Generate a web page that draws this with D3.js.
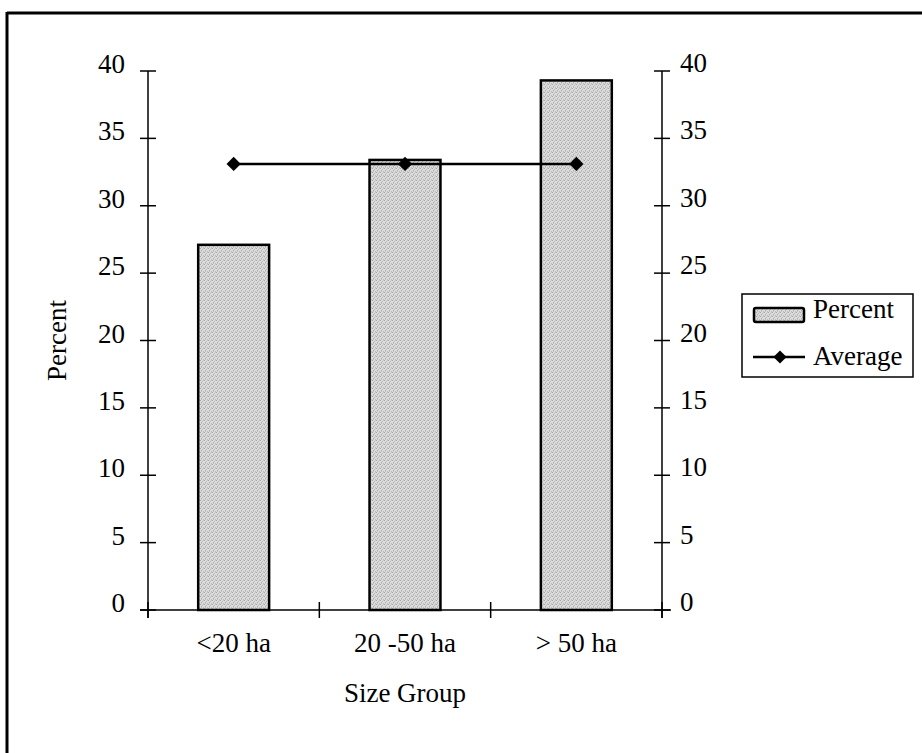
<!DOCTYPE html>
<html>
<head>
<meta charset="utf-8">
<script src="https://cdn.jsdelivr.net/npm/d3@7"></script>
<style>
  html, body { margin: 0; padding: 0; background: #fff; }
  svg { display: block; }
  text { font-family: "Liberation Serif", "Times New Roman", serif; fill: #000; }
</style>
</head>
<body>
<svg id="chart" width="922" height="753"></svg>
<script>
// ---- data ----
const categories = ["<20 ha", "20 -50 ha", "> 50 ha"];
const percentValues = [27.1, 33.4, 39.3];
const averageValues = [33.1, 33.1, 33.1];
const yTicks = [0, 5, 10, 15, 20, 25, 30, 35, 40];
const legendLabels = ["Percent", "Average"];
const xTitle = "Size Group";
const yTitle = "Percent";

(function () {
// ---- layout ----
const W = 922, H = 753;
const pL = 148, pR = 662, pT = 71, pB = 610;
const fs = 27;

const svg = d3.select("#chart");

// pattern for stipple fill
const defs = svg.append("defs");
const pat = defs.append("pattern").attr("id", "stip")
  .attr("width", 4).attr("height", 4).attr("patternUnits", "userSpaceOnUse");
pat.append("rect").attr("width", 4).attr("height", 4).attr("fill", "#dcdcdc");
[[0,0,"#a8a8a8"],[2,1,"#b8b8b8"],[1,2,"#b0b0b0"],[3,3,"#bcbcbc"],[3,0,"#c4c4c4"],[1,3,"#c0c0c0"]]
  .forEach(p => pat.append("rect").attr("x", p[0]).attr("y", p[1]).attr("width", 1).attr("height", 1).attr("fill", p[2]));

// frame (top and left edges visible)
svg.append("line").attr("x1", 7).attr("x2", W).attr("y1", 13).attr("y2", 13)
  .attr("stroke", "#000").attr("stroke-width", 3);
svg.append("line").attr("x1", 7).attr("x2", 7).attr("y1", 12).attr("y2", H)
  .attr("stroke", "#000").attr("stroke-width", 3);

const x = d3.scaleBand().domain(categories).range([pL, pR])
  .paddingInner(0.586).paddingOuter(0.293);
const y = d3.scaleLinear().domain([0, 40]).range([pB, pT]);

// bars
svg.selectAll("rect.bar").data(percentValues).join("rect")
  .attr("class", "bar")
  .attr("x", (d, i) => x(categories[i]))
  .attr("width", x.bandwidth())
  .attr("y", d => y(d))
  .attr("height", d => y(0) - y(d))
  .attr("fill", "url(#stip)")
  .attr("stroke", "#000").attr("stroke-width", 2.5);

// left axis
svg.append("line").attr("x1", pL).attr("x2", pL).attr("y1", y(40)).attr("y2", pB + 8)
  .attr("stroke", "#000").attr("stroke-width", 1.5);
svg.selectAll("line.ltick").data(yTicks).join("line").attr("class", "ltick")
  .attr("x1", pL - 8).attr("x2", pL + 8).attr("y1", d => y(d)).attr("y2", d => y(d))
  .attr("stroke", "#000").attr("stroke-width", 1.5);
svg.selectAll("text.llab").data(yTicks).join("text").attr("class", "llab")
  .attr("x", 125).attr("y", d => y(d) + 2).attr("text-anchor", "end")
  .attr("font-size", fs).text(d => d);

// right axis
svg.append("line").attr("x1", pR).attr("x2", pR).attr("y1", y(40)).attr("y2", pB + 8)
  .attr("stroke", "#000").attr("stroke-width", 1.5);
svg.selectAll("line.rtick").data(yTicks).join("line").attr("class", "rtick")
  .attr("x1", pR - 8).attr("x2", pR + 8).attr("y1", d => y(d)).attr("y2", d => y(d))
  .attr("stroke", "#000").attr("stroke-width", 1.5);
svg.selectAll("text.rlab").data(yTicks).join("text").attr("class", "rlab")
  .attr("x", 680).attr("y", d => y(d) + 1).attr("text-anchor", "start")
  .attr("font-size", fs).text(d => d);

// x axis
svg.append("line").attr("x1", pL - 8).attr("x2", pR + 9).attr("y1", pB).attr("y2", pB)
  .attr("stroke", "#000").attr("stroke-width", 1.5);
svg.selectAll("line.xtick").data(d3.range(categories.length + 1)).join("line").attr("class", "xtick")
  .attr("x1", i => pL + i * x.step()).attr("x2", i => pL + i * x.step())
  .attr("y1", pB - 8).attr("y2", pB + 8)
  .attr("stroke", "#000").attr("stroke-width", 1.5);
svg.selectAll("text.xlab").data(categories).join("text").attr("class", "xlab")
  .attr("x", d => x(d) + x.bandwidth() / 2).attr("y", 652)
  .attr("text-anchor", "middle").attr("font-size", fs).text(d => d);

// titles
svg.append("text").attr("x", (pL + pR) / 2).attr("y", 702)
  .attr("text-anchor", "middle").attr("font-size", fs).text(xTitle);
svg.append("text").attr("transform", "translate(66," + ((pT + pB) / 2) + ") rotate(-90)")
  .attr("text-anchor", "middle").attr("font-size", fs).text(yTitle);

// average line
const line = d3.line().x((d, i) => x(categories[i]) + x.bandwidth() / 2).y(d => y(d));
svg.append("path").datum(averageValues).attr("d", line)
  .attr("fill", "none").attr("stroke", "#000").attr("stroke-width", 2.5);
const diamond = d3.symbol().type(d3.symbolDiamond2).size(130);
svg.selectAll("path.dia").data(averageValues).join("path").attr("class", "dia")
  .attr("d", diamond)
  .attr("transform", (d, i) => "translate(" + (x(categories[i]) + x.bandwidth() / 2) + "," + y(d) + ")")
  .attr("fill", "#000");

// legend
const lg = svg.append("g");
lg.append("rect").attr("x", 742).attr("y", 294).attr("width", 171).attr("height", 83)
  .attr("fill", "#fff").attr("stroke", "#000").attr("stroke-width", 1.5);
lg.append("rect").attr("x", 754).attr("y", 308).attr("width", 50).attr("height", 14).attr("rx", 2)
  .attr("fill", "url(#stip)").attr("stroke", "#000").attr("stroke-width", 2.5);
lg.append("text").attr("x", 813).attr("y", 318).attr("font-size", fs).text(legendLabels[0]);
lg.append("line").attr("x1", 753).attr("x2", 805).attr("y1", 357).attr("y2", 357)
  .attr("stroke", "#000").attr("stroke-width", 2.5);
lg.append("path").attr("d", d3.symbol().type(d3.symbolDiamond2).size(110))
  .attr("transform", "translate(780,357)").attr("fill", "#000");
lg.append("text").attr("x", 813).attr("y", 365).attr("font-size", fs).text(legendLabels[1]);
})();
</script>
</body>
</html>
